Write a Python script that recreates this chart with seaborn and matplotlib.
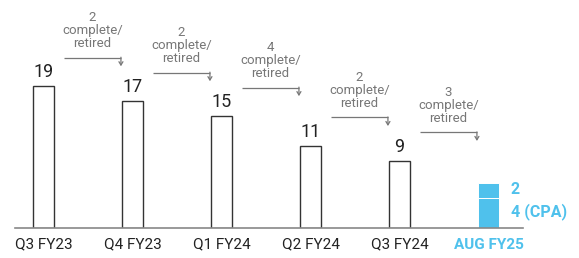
import matplotlib

matplotlib.use("Agg")

import matplotlib.pyplot as plt
import pandas as pd
import seaborn as sns

categories = ["Q3 FY23", "Q4 FY23", "Q1 FY24", "Q2 FY24", "Q3 FY24", "AUG FY25"]
counts = [19, 17, 15, 11, 9]
aug_parts = [4, 2]  # bottom: CPA, top: other
aug_labels = ["4 (CPA)", "2"]
retired = [2, 2, 4, 2, 3]

BLUE = "#4fc1ec"
GREY = "#777777"


def main():
    sns.set_theme(style="white")
    plt.rcParams["font.family"] = ["Roboto", "DejaVu Sans"]

    fig = plt.figure(figsize=(5.79, 2.58), dpi=100)
    ax = fig.add_axes([0, 30 / 258, 1, 228 / 258])

    df = pd.DataFrame({"period": categories[:5], "count": counts})
    sns.barplot(
        data=df,
        x="period",
        y="count",
        order=categories,
        color="white",
        edgecolor="#333333",
        linewidth=1,
        width=0.236,
        ax=ax,
    )

    last = len(categories) - 1
    ax.bar(last, aug_parts[0], width=0.236, color=BLUE, edgecolor="white", linewidth=0.7)
    ax.bar(last, aug_parts[1], bottom=aug_parts[0], width=0.236, color=BLUE,
           edgecolor="white", linewidth=0.7)
    ax.text(last + 0.25, aug_parts[0] + aug_parts[1] * 0.55, aug_labels[1], color=BLUE,
            fontsize=11.5, fontweight="bold", ha="left", va="center")
    ax.text(last + 0.25, aug_parts[0] * 0.55, aug_labels[0], color=BLUE,
            fontsize=11.5, fontweight="bold", ha="left", va="center")

    for i, v in enumerate(counts):
        ax.text(i, v + 1.9, str(v), ha="center", va="center", fontsize=13, color="#222222")

    for i, n in enumerate(retired):
        y = counts[i] + 3.8
        x0, x1 = i + 0.23, i + 0.87
        ax.plot([x0, x1], [y, y], color=GREY, lw=0.9, solid_capstyle="butt")
        ax.annotate("", xy=(x1, y - 1.15), xytext=(x1, y + 0.06),
                    arrowprops=dict(arrowstyle="->,head_length=0.2,head_width=0.12",
                                    color=GREY, lw=0.9, shrinkA=0, shrinkB=0))
        ax.text(i + 0.55, y + 1.0, f"{n}\ncomplete/\nretired", ha="center", va="bottom",
                fontsize=9.5, color=GREY, linespacing=1.0)

    ax.set_xlim(-0.489, 6.017)
    ax.set_ylim(0, 30.52)
    ax.set_xlabel("")
    ax.set_ylabel("")
    ax.set_yticks([])
    ax.set_xticks(range(len(categories)))
    ax.set_xticklabels(categories, fontsize=11, color="#222222")
    ax.tick_params(axis="x", length=0, pad=7)
    tick_labels = ax.get_xticklabels()
    tick_labels[-1].set_color(BLUE)
    tick_labels[-1].set_fontweight("bold")

    for side in ["top", "left", "right"]:
        ax.spines[side].set_visible(False)
    ax.spines["bottom"].set_color("#888888")
    ax.spines["bottom"].set_linewidth(1.2)
    ax.spines["bottom"].set_bounds(-0.32, 5.39)
    ax.patch.set_alpha(0)

    fig.savefig("out.png", dpi=100)
    plt.close(fig)


if __name__ == "__main__":
    main()
